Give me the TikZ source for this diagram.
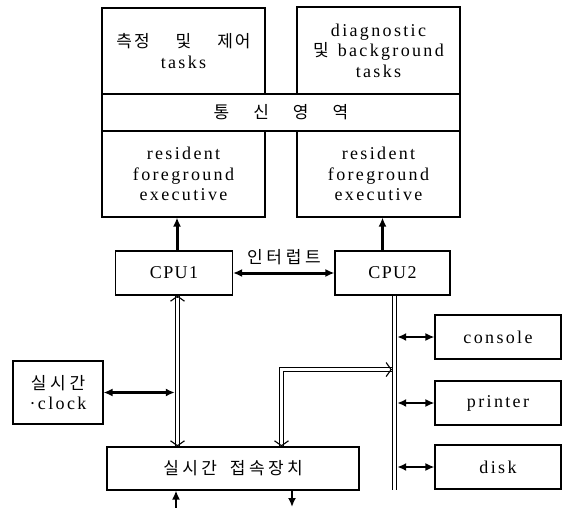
\documentclass[tikz,border=0pt]{standalone}
\usepackage{fontspec}
\setmainfont{Liberation Serif}
\newfontfamily\kr{Noto Sans CJK KR}[LetterSpace=12]
\usetikzlibrary{arrows.meta, calc}

\newcommand\kor[1]{{\kr\fontsize{17}{20}\selectfont #1}}

\tikzset{
  box/.style={draw, line width=1.1pt, inner sep=0pt, align=center,
    font=\fontsize{18}{20.5}\selectfont\addfontfeature{LetterSpace=13}},
  taskbox/.style={box, minimum width=163pt, minimum height=86pt},
  cpubox/.style={box, minimum width=117pt, minimum height=44pt,
    font=\fontsize{18}{19}\selectfont\addfontfeature{LetterSpace=8}},
  devbox/.style={box, minimum width=126pt, minimum height=44pt},
  heavy/.style={->, line width=3pt},
  light/.style={<->, line width=2.8pt},
  bus/.style={double, double distance=3.6pt, line width=0.9pt},
  barb/.style={-{Straight Barb[length=5pt, width=14pt]}, line width=1.1pt}
}

\begin{document}
\begin{tikzpicture}[x=1pt, y=-1pt, >={Latex[length=9pt, width=8pt]}, line width=1pt]
  \useasboundingbox (0,0) rectangle (570,508);
  % 작업 영역과 통신 영역
  \node[taskbox] (tasksA) at (183.5,51) {\kor{측정\hspace{26pt}및\hspace{26pt}제어}\\tasks};
  \node[taskbox, minimum height=87pt] (tasksB) at (378.5,50.5)
    {diagnostic\\\kor{및}\hspace{9pt}background\\tasks};
  \node[box, minimum width=358pt, minimum height=37pt] (comm) at (281,112.5)
    {\kor{통\hspace{24pt}신\hspace{24pt}영\hspace{24pt}역}};
  \node[taskbox] (resA) at (183.5,174) {resident\\foreground\\executive};
  \node[taskbox] (resB) at (378.5,174) {resident\\foreground\\executive};

  % CPU
  \node[cpubox] (cpuA) at (174,273) {CPU1};
  \node[cpubox, minimum width=115pt] (cpuB) at (392.5,273) {CPU2};
  \node (irq) at (284,257) {\kor{\addfontfeature{LetterSpace=22}인터럽트}};
  \draw[heavy] ([xshift=3pt]cpuA.north) -- ([xshift=3pt]cpuA.north |- resA.south);
  \draw[heavy] ([xshift=-10pt]cpuB.north) -- ([xshift=-10pt]cpuB.north |- resB.south);
  \draw[heavy, <->] (cpuA) -- (cpuB);

  % 실시간 장치
  \node[box, minimum width=90pt, minimum height=63pt] (clock) at (58,392.5)
    {\kor{\addfontfeature{LetterSpace=22}실시간}\\·clock};
  \node[box, minimum width=252pt, minimum height=43pt] (iface) at (233,468.5)
    {\kor{\addfontfeature{LetterSpace=20}실시간\hspace{13pt}접속장치}};
  \coordinate (dblA) at ([xshift=3.5pt]cpuA.south);
  \coordinate (dblB) at (dblA |- iface.north);
  \draw[bus] (dblA) -- (dblB);
  \draw[barb] ($(dblA)+(0,1)$) -- (dblA);
  \draw[barb] ($(dblB)+(0,-1)$) -- (dblB);
  \draw[light] (clock.east) -- ([xshift=-2.7pt]clock.east -| dblA);

  % 주변 장치와 버스
  \node[devbox] (console) at (498,337) {console};
  \node[devbox] (printer) at (498,403) {printer};
  \node[devbox] (disk) at (498,467) {disk};
  \coordinate (busTop) at ([xshift=2pt]cpuB.south);
  \coordinate (busEnd) at (busTop |- disk.south);
  \draw[bus] (busTop) -- (busEnd);
  \foreach \dev in {console, printer, disk}
    \draw[light] ([xshift=2.7pt]\dev.west -| busTop) -- (\dev.west);
  \coordinate (ifaceTap) at ([xshift=48.5pt]iface.north);
  \coordinate (busTap) at ($(busTop)+(-2.7,74)$);
  \draw[bus] (ifaceTap) |- (busTap);
  \draw[barb] ($(ifaceTap)+(0,-1)$) -- (ifaceTap);
  \draw[barb] ($(busTap)+(-1,0)$) -- (busTap);

  % 외부 입출력
  \coordinate (inA) at (176,508);
  \coordinate (outA) at (292,507);
  \draw[->, line width=2pt] (inA) -- (inA |- iface.south);
  \draw[->, line width=2pt] (outA |- iface.south) -- (outA);
\end{tikzpicture}
\end{document}
